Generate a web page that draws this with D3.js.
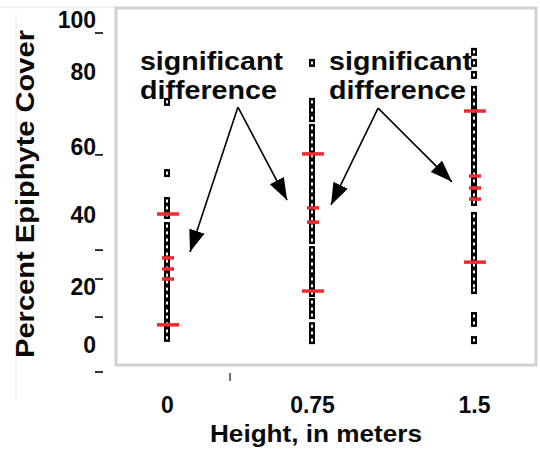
<!DOCTYPE html>
<html>
<head>
<meta charset="utf-8">
<script src="https://cdn.jsdelivr.net/npm/d3@7.9.0/dist/d3.min.js"></script>
<style>
  body { margin: 0; background: #fff; }
  svg text { font-family: "Liberation Sans", Arial, sans-serif; font-weight: bold; fill: #0a0a0a; }
</style>
</head>
<body>
<div id="chart"></div>
<script>
// heights sampled (m) and percent epiphyte cover per quadrat
const heights = [0, 0.75, 1.5];
const heightLabels = ["0", "0.75", "1.5"];

const cover0 = [74.8, 52.9, 44.3, 42.2, 40.0, 36.6, 34.5, 32.3, 30.2, 28.0, 25.8, 23.7,
  21.5, 19.4, 17.2, 15.1, 12.9, 10.5, 8.6, 6.5, 4.3, 2.2];
const cover075 = [86.8, 74.8, 72.3, 69.8, 66.8, 64.6, 62.5, 60.3, 58.2, 56.0, 53.8, 51.7,
  49.5, 47.4, 45.2, 43.1, 40.9, 38.8, 36.6, 34.5, 32.3, 29.2, 27.1, 24.9, 22.8, 20.3,
  18.2, 16.0, 13.2, 11.1, 9.2, 5.8, 3.7, 1.5];
const cover15 = [90.2, 86.8, 83.1, 78.5, 76.3, 74.2, 72.0, 69.8, 67.7, 65.5, 63.4, 61.2,
  59.1, 56.9, 54.8, 52.6, 50.5, 48.3, 46.2, 44.0, 39.7, 37.5, 35.4, 33.2, 31.1, 28.9,
  26.8, 24.6, 22.5, 20.3, 18.2, 16.9, 8.9, 6.8, 1.5];

// red summary marks (long and short)
const longMarks = [[40.3, 6.2], [58.8, 16.6], [72.0, 25.5]];
const shortMarks = [[26.8, 23.4, 20.3], [42.2, 37.8], [52.0, 48.3, 44.9]];

// y axis labels and the stray dashes beside them
const yLabels = ["0", "20", "40", "60", "80", "100"];
const yLabelAt = [0, 18, 40, 61, 84, 100];
const yDashes = [96, 58.5, 29.2, 20.3, 8.6, -8.3];
const xStrayTick = [0.326];

// annotations, in data units: [height, cover]
const notes = [
  { at: [-0.14, 84.6], apex: [0.367, 73.2], tips: [[0.119, 28.6], [0.621, 44.6]] },
  { at: [0.829, 84.6], apex: [1.056, 72.9], tips: [[0.838, 43.1], [1.398, 50.2]] }
];

const width = 540, height = 451;
const frame = { left: 116, top: 8, right: 536, bottom: 365 };

const svg = d3.select("#chart").append("svg")
  .attr("width", width)
  .attr("height", height);

const x = d3.scaleLinear().domain(heights).range([167, 312, 474]);
const y = d3.scaleLinear().domain([0, 100]).range([345, 20]);

// faint outer box lines
svg.append("line")
  .attr("x1", 0).attr("x2", frame.left).attr("y1", 7).attr("y2", 7)
  .attr("stroke", "#e2e2e2").attr("stroke-width", 1);
svg.append("line")
  .attr("x1", 16).attr("x2", 16).attr("y1", 14).attr("y2", 400)
  .attr("stroke", "#e6e6e6").attr("stroke-width", 1);

// plot frame
svg.append("rect")
  .attr("x", frame.left).attr("y", frame.top)
  .attr("width", frame.right - frame.left)
  .attr("height", frame.bottom - frame.top)
  .attr("fill", "none")
  .attr("stroke", "#d2d2d2")
  .attr("stroke-width", 3);

// y labels
svg.append("g").selectAll("text")
  .data(yLabels)
  .join("text")
  .attr("x", 96)
  .attr("y", (d, i) => y(yLabelAt[i]))
  .attr("dy", "0.36em")
  .attr("text-anchor", "end")
  .style("font-size", "23px")
  .text(d => d);

svg.append("g").selectAll("line")
  .data(yDashes)
  .join("line")
  .attr("x1", 95).attr("x2", 103)
  .attr("y1", d => y(d)).attr("y2", d => y(d))
  .attr("stroke", "#222").attr("stroke-width", 1.8);

// x labels via axis
const xAxis = svg.append("g")
  .attr("transform", "translate(0,405)")
  .call(d3.axisBottom(x).tickValues(heights).tickFormat((d, i) => heightLabels[i]).tickSize(0));
xAxis.select(".domain").remove();
xAxis.selectAll("text")
  .attr("y", 0)
  .attr("dy", "0.36em")
  .attr("fill", "#0a0a0a")
  .style("font-size", "23px")
  .style("font-family", "Liberation Sans, Arial, sans-serif")
  .style("font-weight", "bold");

svg.append("g").selectAll("line")
  .data(xStrayTick)
  .join("line")
  .attr("x1", d => x(d)).attr("x2", d => x(d))
  .attr("y1", 373).attr("y2", 381)
  .attr("stroke", "#333").attr("stroke-width", 1.4);

// axis titles
svg.append("text")
  .attr("x", 316)
  .attr("y", 442)
  .attr("text-anchor", "middle")
  .attr("textLength", 212)
  .attr("lengthAdjust", "spacingAndGlyphs")
  .style("font-size", "23px")
  .text("Height, in meters");

svg.append("text")
  .attr("transform", "translate(34,194) rotate(-90)")
  .attr("text-anchor", "middle")
  .attr("textLength", 328)
  .attr("lengthAdjust", "spacingAndGlyphs")
  .style("font-size", "26px")
  .text("Percent Epiphyte Cover");

// points: dark squares with a small pale centre
const columns = [cover0, cover075, cover15];
const pts = svg.append("g");
columns.forEach((vals, i) => {
  pts.selectAll(null)
    .data(vals)
    .join("rect")
    .attr("x", x(heights[i]) - 3)
    .attr("y", d => y(d) - 4)
    .attr("width", 6)
    .attr("height", 8)
    .attr("fill", "#000");
});
columns.forEach((vals, i) => {
  pts.selectAll(null)
    .data(vals)
    .join("rect")
    .attr("x", x(heights[i]) - 1)
    .attr("y", d => y(d) - 1.5)
    .attr("width", 2)
    .attr("height", 3)
    .attr("fill", "#fff");
});

// red marks
const reds = svg.append("g");
longMarks.forEach((vals, i) => {
  reds.selectAll(null)
    .data(vals)
    .join("rect")
    .attr("x", x(heights[i]) - 10)
    .attr("y", d => y(d) - 1.75)
    .attr("width", 22)
    .attr("height", 3.5)
    .attr("fill", "#ee2a33");
});
shortMarks.forEach((vals, i) => {
  reds.selectAll(null)
    .data(vals)
    .join("rect")
    .attr("x", x(heights[i]) - 5)
    .attr("y", d => y(d) - 1.75)
    .attr("width", 12)
    .attr("height", 3.5)
    .attr("fill", "#ee2a33");
});

// arrowhead
svg.append("defs").append("marker")
  .attr("id", "head")
  .attr("markerUnits", "userSpaceOnUse")
  .attr("viewBox", "0 0 22 16")
  .attr("markerWidth", 22)
  .attr("markerHeight", 16)
  .attr("refX", 22)
  .attr("refY", 8)
  .attr("orient", "auto")
  .append("path")
  .attr("d", "M0,0L22,8L0,16Z")
  .attr("fill", "#000");

const ann = svg.append("g");
notes.forEach(n => {
  ann.append("text")
    .attr("x", x(n.at[0]))
    .attr("y", y(n.at[1]))
    .attr("textLength", 143)
    .attr("lengthAdjust", "spacingAndGlyphs")
    .style("font-size", "26px")
    .text("significant");
  ann.append("text")
    .attr("x", x(n.at[0]))
    .attr("y", y(n.at[1]) + 29)
    .attr("textLength", 137)
    .attr("lengthAdjust", "spacingAndGlyphs")
    .style("font-size", "26px")
    .text("difference");
  n.tips.forEach(t => {
    ann.append("line")
      .attr("x1", x(n.apex[0])).attr("y1", y(n.apex[1]))
      .attr("x2", x(t[0])).attr("y2", y(t[1]))
      .attr("stroke", "#000")
      .attr("stroke-width", 1.6)
      .attr("marker-end", "url(#head)");
  });
});
</script>
</body>
</html>
